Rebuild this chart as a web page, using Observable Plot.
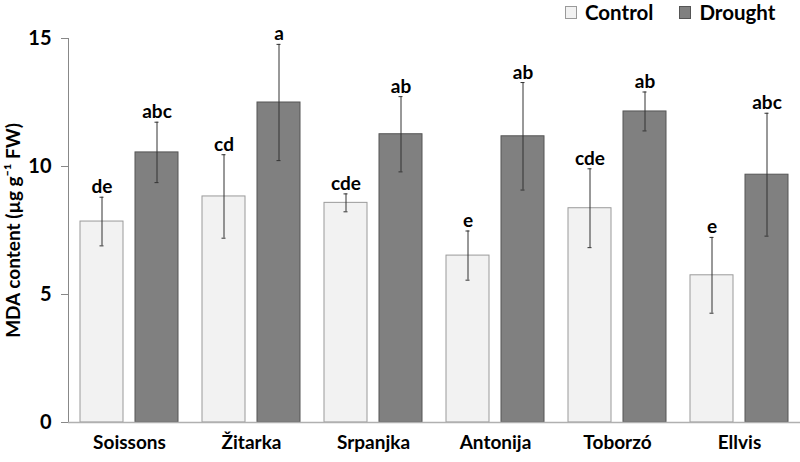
<!DOCTYPE html>
<html>
<head>
<meta charset="utf-8">
<script src="https://cdn.jsdelivr.net/npm/d3@7"></script>
<script src="https://cdn.jsdelivr.net/npm/@observablehq/plot@0.6"></script>
<style>
  body { margin: 0; background: #fff; }
  #wrap { position: relative; width: 800px; height: 462px; font-family: Lato, "Open Sans", sans-serif; }
  #wrap svg { position: absolute; left: 0; top: 0; overflow: visible; }
  #legend { position: absolute; top: 0; left: 565px; display: flex; font-weight: bold; font-size: 20.5px; line-height: normal; color: #000; z-index: 2; }
  .item { display: flex; align-items: center; margin-right: 26px; }
  .sw { width: 12px; height: 13px; margin-right: 8px; box-sizing: border-box; margin-top: 1px; }
  g[aria-label="y-axis tick label"] { font-size: 20px; }
  g[aria-label="fx-axis tick label"] { font-size: 19px; }
  g[aria-label="y-axis label"] { font-size: 19px; }
</style>
</head>
<body>
<div id="wrap">
  <div id="legend"></div>
</div>
<script>
const cultivars = ["Soissons", "Žitarka", "Srpanjka", "Antonija", "Toborzó", "Ellvis"];
const treatments = ["Control", "Drought"];
const controlMean = [7.85, 8.83, 8.58, 6.52, 8.37, 5.75];
const controlErr  = [0.95, 1.63, 0.35, 0.96, 1.54, 1.48];
const droughtMean = [10.55, 12.5, 11.26, 11.18, 12.15, 9.68];
const droughtErr  = [1.18, 2.27, 1.47, 2.1, 0.76, 2.4];
const controlLetters = ["de", "cd", "cde", "e", "cde", "e"];
const droughtLetters = ["abc", "a", "ab", "ab", "ab", "abc"];
const yTicks = [0, 5, 10, 15];

const fills = {Control: "#f2f2f2", Drought: "#808080"};
const strokes = {Control: "#9a9a9a", Drought: "#555555"};

const data = [];
cultivars.forEach((c, i) => {
  data.push({cultivar: c, treatment: "Control", mean: controlMean[i], err: controlErr[i], letter: controlLetters[i]});
  data.push({cultivar: c, treatment: "Drought", mean: droughtMean[i], err: droughtErr[i], letter: droughtLetters[i]});
});
data.forEach(d => { d.lo = d.mean - d.err; d.hi = d.mean + d.err; });

const font = "Lato, 'Open Sans', sans-serif";

const chart = Plot.plot({
  width: 800,
  height: 462,
  marginTop: 38,
  marginBottom: 40,
  marginLeft: 67,
  marginRight: 0,
  style: {fontFamily: font, fontWeight: "bold", fontSize: "17px", color: "#000", background: "transparent"},
  fx: {domain: cultivars, padding: 0, label: null},
  x: {domain: treatments, paddingInner: 0.21, paddingOuter: 0.2, axis: null},
  y: {domain: [0, 15], ticks: yTicks},
  color: {domain: treatments, range: [fills.Control, fills.Drought]},
  marks: [
    Plot.axisFx({anchor: "bottom", tickSize: 0, tickPadding: 13, fontSize: 19, label: null}),
    Plot.axisY({ticks: yTicks, tickSize: 7, tickPadding: 10, fontSize: 20, stroke: "#888",
      label: "MDA content (µg g⁻¹ FW)", labelAnchor: "center", labelArrow: "none", labelOffset: 62}),
    Plot.frame({anchor: "left", facetAnchor: "left", stroke: "#888"}),
    Plot.barY(data, {fx: "cultivar", x: "treatment", y: "mean", fill: "treatment",
      stroke: d => strokes[d.treatment], strokeWidth: 1}),
    Plot.ruleY([0], {stroke: "#b0b0b0", strokeWidth: 1.5}),
    Plot.ruleX(data, {fx: "cultivar", x: "treatment", y1: "lo", y2: "hi", stroke: "#333", strokeWidth: 1}),
    Plot.tickY(data, {fx: "cultivar", x: "treatment", y: "lo", stroke: "#333", insetLeft: 19.5, insetRight: 19.5}),
    Plot.tickY(data, {fx: "cultivar", x: "treatment", y: "hi", stroke: "#333", insetLeft: 19.5, insetRight: 19.5}),
    Plot.text(data, {fx: "cultivar", x: "treatment", y: "hi", text: "letter", dy: -4, lineAnchor: "bottom",
      fontSize: 19, fontWeight: "bold", fill: "#000"})
  ]
});
document.getElementById("wrap").appendChild(chart);

const legend = document.getElementById("legend");
treatments.forEach(t => {
  const item = document.createElement("div");
  item.className = "item";
  const sw = document.createElement("div");
  sw.className = "sw";
  sw.style.background = fills[t];
  sw.style.border = "1px solid " + strokes[t];
  const lab = document.createElement("span");
  lab.textContent = t;
  item.appendChild(sw);
  item.appendChild(lab);
  legend.appendChild(item);
});
</script>
</body>
</html>
